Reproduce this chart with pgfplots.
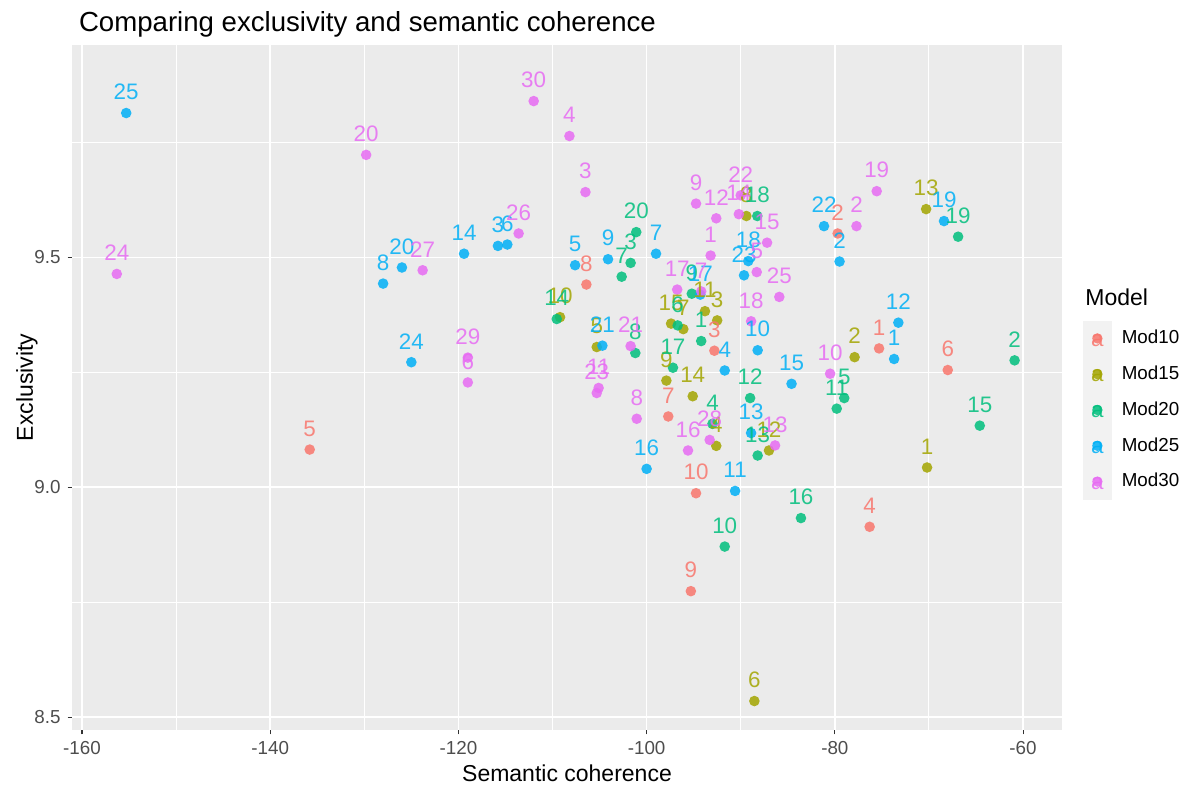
\documentclass[border=0pt]{standalone}
\usepackage{pgfplots}
\usepackage{pgfplotstable}
\pgfplotsset{compat=1.18}
\usepackage{fontspec}
\setmainfont{Liberation Sans}
\definecolor{cA}{HTML}{F8766D}
\definecolor{cB}{HTML}{A3A500}
\definecolor{cC}{HTML}{00BF7D}
\definecolor{cD}{HTML}{00B0F6}
\definecolor{cE}{HTML}{E76BF3}
\definecolor{panel}{HTML}{EBEBEB}
\definecolor{keybg}{HTML}{F2F2F2}
\definecolor{ticklab}{HTML}{4D4D4D}
\definecolor{tickcol}{HTML}{333333}

\pgfplotstableread{
x y l
-75.3 9.302 1
-79.7 9.552 2
-92.8 9.297 3
-76.3 8.914 4
-135.8 9.082 5
-68.0 9.255 6
-97.7 9.154 7
-106.4 9.441 8
-95.3 8.774 9
-94.75 8.987 10
}\modA

\pgfplotstableread{
x y l
-70.2 9.043 1
-77.9 9.283 2
-92.5 9.363 3
-92.6 9.090 4
-105.3 9.305 5
-88.55 8.535 6
-96.1 9.344 7
-89.4 9.590 8
-97.9 9.232 9
-109.2 9.370 10
-93.8 9.383 11
-87.0 9.080 12
-70.3 9.605 13
-95.1 9.198 14
-97.4 9.356 15
}\modB

\pgfplotstableread{
x y l
-94.2 9.318 1
-60.9 9.276 2
-101.7 9.488 3
-93.0 9.138 4
-79.0 9.194 5
-96.7 9.352 6
-102.65 9.458 7
-101.2 9.292 8
-95.2 9.421 9
-91.7 8.871 10
-79.8 9.171 11
-89.0 9.194 12
-88.2 9.069 13
-109.55 9.366 14
-64.6 9.134 15
-83.6 8.933 16
-97.2 9.260 17
-88.24 9.590 18
-66.9 9.545 19
-101.1 9.555 20
}\modC

\pgfplotstableread{
x y l
-73.7 9.279 1
-79.5 9.491 2
-115.8 9.525 3
-91.7 9.254 4
-107.6 9.483 5
-114.8 9.528 6
-99.0 9.508 7
-128.0 9.443 8
-104.1 9.496 9
-88.2 9.298 10
-90.6 8.992 11
-73.25 9.358 12
-88.9 9.118 13
-119.4 9.508 14
-84.6 9.225 15
-100.0 9.040 16
-94.3 9.419 17
-89.2 9.492 18
-68.4 9.579 19
-126.0 9.478 20
-104.7 9.308 21
-81.15 9.568 22
-89.65 9.461 23
-125.0 9.272 24
-155.3 9.814 25
}\modD

\pgfplotstableread{
x y l
-93.2 9.504 1
-77.7 9.568 2
-106.5 9.642 3
-108.2 9.764 4
-88.3 9.468 5
-119.0 9.228 6
-94.2 9.426 7
-101.05 9.149 8
-94.75 9.617 9
-80.5 9.247 10
-105.1 9.216 11
-92.6 9.585 12
-86.35 9.091 13
-90.2 9.594 14
-87.2 9.532 15
-95.6 9.080 16
-96.75 9.430 17
-88.9 9.361 18
-75.55 9.644 19
-129.8 9.723 20
-101.7 9.307 21
-90.0 9.635 22
-105.3 9.205 23
-156.3 9.464 24
-85.9 9.414 25
-113.6 9.552 26
-123.8 9.472 27
-93.3 9.103 28
-119.0 9.282 29
-112.0 9.840 30
}\modE

\pgfplotsset{
  ptstyle/.style={only marks, mark=*, mark size=2.65pt, color=#1, fill=#1,
     mark options={draw opacity=0, fill opacity=0.85}},
  lblstyle/.style={forget plot, draw=none, mark=none, nodes near coords,
     point meta=explicit symbolic,
     every node near coord/.append style={anchor=center, yshift=10.5pt, text=#1,
        text opacity=0.85, inner sep=0pt, font=\fontsize{11.2}{12}\selectfont}},
}

\begin{document}
\begin{tikzpicture}
\begin{axis}[
  name=ax, at={(0,0)}, anchor=south west,
  scale only axis, width=495pt, height=342.5pt,
  xmin=-161.06, xmax=-55.86, ymin=8.472, ymax=9.962,
  xtick={-160,-140,-120,-100,-80,-60},
  xticklabels={-160,-140,-120,-100,-80,-60},
  minor xtick={-150,-130,-110,-90,-70},
  ytick={8.5,9.0,9.5}, yticklabels={8.5,9.0,9.5},
  minor ytick={8.75,9.25,9.75},
  grid=both,
  major grid style={white, line width=0.85pt},
  minor grid style={white, line width=0.45pt},
  tick align=outside, tick pos=left,
  major tick length=2.2pt, minor tick length=0pt,
  tick style={tickcol, line width=0.55pt},
  axis line style={draw=none},
  axis background/.style={fill=panel},
  ticklabel style={font=\fontsize{9.4}{10}\selectfont, text=ticklab},
  legend style={at={(1.0212,0.5978)}, anchor=north west, draw=none, fill=none,
     inner sep=0pt, outer sep=0pt, row sep=0pt,
     font=\fontsize{9.4}{10}\selectfont, cells={anchor=west},
     /tikz/every odd column/.style={column sep=3pt}},
  legend image code/.code={%
     \fill[keybg] (0pt,-8.75pt) rectangle (14pt,8.75pt);
     \fill[#1, draw=none, opacity=0.85] (7pt,0pt) circle (2.6pt);
     \path[#1] (7pt,-1.6pt) node[anchor=center, inner sep=0pt, text opacity=0.85, font=\fontsize{11.2}{12}\selectfont] {a};
  },
]
\addplot[ptstyle=cA] table[x=x,y=y] {\modA}; \addlegendentry{Mod10}
\addplot[ptstyle=cB] table[x=x,y=y] {\modB}; \addlegendentry{Mod15}
\addplot[ptstyle=cC] table[x=x,y=y] {\modC}; \addlegendentry{Mod20}
\addplot[ptstyle=cD] table[x=x,y=y] {\modD}; \addlegendentry{Mod25}
\addplot[ptstyle=cE] table[x=x,y=y] {\modE}; \addlegendentry{Mod30}
\addplot[lblstyle=cA] table[x=x,y=y,meta=l] {\modA};
\addplot[lblstyle=cB] table[x=x,y=y,meta=l] {\modB};
\addplot[lblstyle=cC] table[x=x,y=y,meta=l] {\modC};
\addplot[lblstyle=cD] table[x=x,y=y,meta=l] {\modD};
\addplot[lblstyle=cE] table[x=x,y=y,meta=l] {\modE};
\end{axis}
\node[anchor=base west, font=\fontsize{13.8}{16}\selectfont] at (0pt,349pt) {Comparing exclusivity and semantic coherence};
\node[anchor=base, font=\fontsize{11.5}{13}\selectfont] at (247.5pt,-26pt) {Semantic coherence};
\node[rotate=90, anchor=base, font=\fontsize{11.5}{13}\selectfont] at (-19.5pt,171.25pt) {Exclusivity};
\node[anchor=west, inner sep=0pt, font=\fontsize{11.5}{13}\selectfont] at (506.5pt,216.5pt) {Model};
\pgfresetboundingbox
\path (-36pt,-30.5pt) rectangle (565.5pt,365pt);
\end{tikzpicture}
\end{document}
